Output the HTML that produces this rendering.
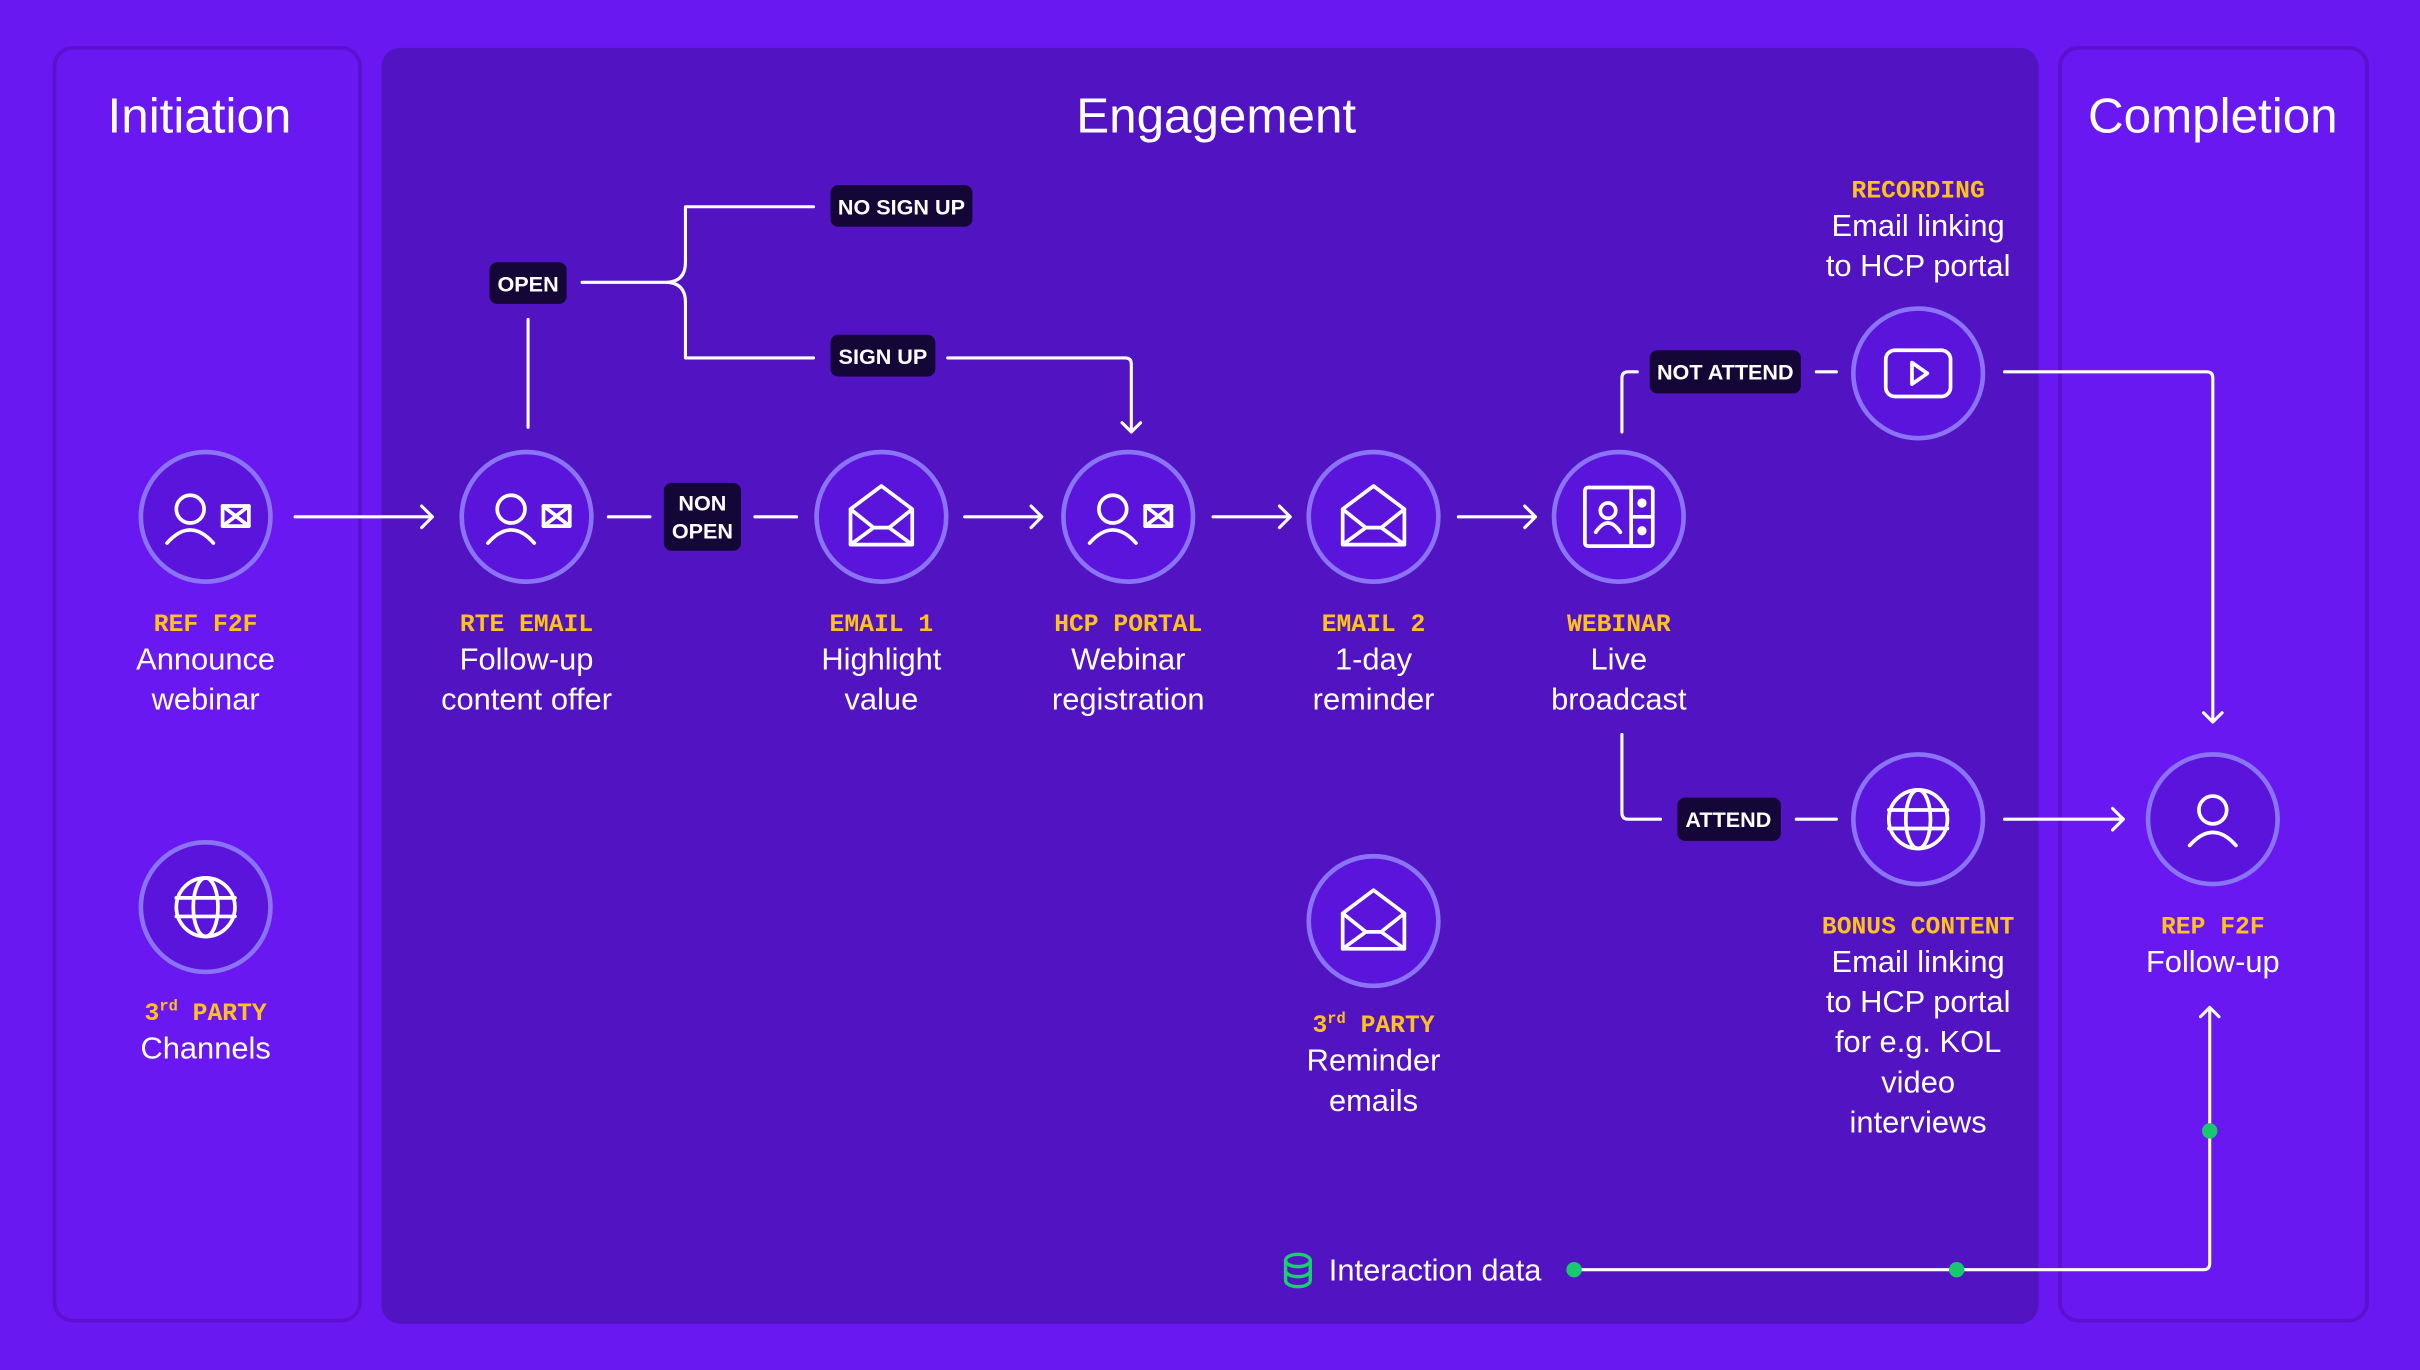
<!DOCTYPE html>
<html><head><meta charset="utf-8">
<style>
html,body{margin:0;padding:0;background:#6a18f2;}
svg{display:block;}
.h{font-family:"Liberation Sans",sans-serif;font-size:32px;fill:#fff;text-anchor:middle;}
.y{font-family:"Liberation Mono",monospace;font-size:16px;font-weight:bold;fill:#ffc21a;text-anchor:middle;}
.w{font-family:"Liberation Sans",sans-serif;font-size:20px;fill:#fff;text-anchor:middle;}
.l{font-family:"Liberation Sans",sans-serif;font-size:14px;font-weight:bold;fill:#fff;text-anchor:middle;}
.ln{stroke:#fff;stroke-width:2;fill:none;stroke-linecap:round;stroke-linejoin:round;}
.c{fill:#5a14dc;stroke:#8b73f6;stroke-width:3;}
.ic{stroke:#fff;stroke-width:2.4;fill:none;stroke-linejoin:round;stroke-linecap:round;}
.lb{fill:#150638;}
</style></head><body>
<svg width="2420" height="1370" viewBox="0 0 1568 888" xmlns="http://www.w3.org/2000/svg">
<defs>
<g id="pm"><circle class="ic" cx="-10" cy="-5" r="9"/><path class="ic" d="M-25,17 Q-10,0 5,17"/><rect class="ic" x="11" y="-7" width="17" height="13" stroke-width="2"/><path class="ic" d="M11,-7 L28,6 M28,-7 L11,6" stroke-width="1.4"/></g>
<g id="env"><path class="ic" d="M-20,-5 L0,-20 L20,-5 V18 H-20 Z M-20,-5 L-5,7 M20,-5 L5,7 M-20,18 L-5,7 H5 L20,18"/></g>
<g id="glb"><circle class="ic" cx="0" cy="0" r="19"/><ellipse class="ic" cx="0" cy="0" rx="8" ry="19"/><path class="ic" d="M-19,-6 H19 M-19,6 H19"/></g>
<g id="per"><circle class="ic" cx="0" cy="-6" r="9"/><path class="ic" d="M-15,17 Q0,0 15,17"/></g>
<g id="web"><rect class="ic" x="-22" y="-19" width="44" height="38" rx="2"/><path class="ic" d="M8,-19 V19 M8,0 H22"/><circle cx="15" cy="-9" r="3" fill="#fff"/><circle cx="15" cy="9" r="3" fill="#fff"/><circle class="ic" cx="-7" cy="-4" r="5" stroke-width="2"/><path class="ic" d="M-15,10 Q-7,-2 1,10" stroke-width="2"/></g>
<g id="ply"><rect class="ic" x="-21" y="-15" width="42" height="30" rx="6"/><path class="ic" d="M-4,-7 L6,0 L-4,7 Z"/></g>
</defs>
<rect width="1568" height="888" fill="#6a18f2"/>
<rect x="35" y="31" width="198" height="825" rx="12" fill="#6a18f2" stroke="#5a12d0" stroke-width="2.5"/>
<rect x="247" y="31" width="1074" height="827" rx="12" fill="#5214c2"/>
<rect x="1335" y="31" width="199" height="825" rx="12" fill="#6a18f2" stroke="#5a12d0" stroke-width="2.5"/>
<text class="h" x="129" y="86">Initiation</text>
<text class="h" x="788" y="86">Engagement</text>
<text class="h" x="1434" y="86">Completion</text>

<path class="ln" d="M191,335 H280 M273,328 L280,335 L273,342"/>
<path class="ln" d="M394,335 H421 M489,335 H516"/>
<path class="ln" d="M342,277 V207"/>
<path class="ln" d="M377,183 H431 Q444,183 444,170 V134 H527 M431,183 Q444,183 444,196 V232 H527"/>
<path class="ln" d="M614,232 H729 Q733,232 733,236 V280 M727,274 L733,280 L739,274"/>
<path class="ln" d="M625,335 H675 M668,328 L675,335 L668,342"/>
<path class="ln" d="M786,335 H836 M829,328 L836,335 L829,342"/>
<path class="ln" d="M945,335 H995 M988,328 L995,335 L988,342"/>
<path class="ln" d="M1051,280 V245 Q1051,241 1055,241 H1061 M1177,241 H1190"/>
<path class="ln" d="M1299,241 H1430 Q1434,241 1434,245 V468 M1428,462 L1434,468 L1440,462"/>
<path class="ln" d="M1051,476 V527 Q1051,531 1055,531 H1076 M1164,531 H1190"/>
<path class="ln" d="M1299,531 H1376 M1369,524 L1376,531 L1369,538"/>
<path class="ln" d="M1020,823 H1428 Q1432,823 1432,819 V653 M1426,659 L1432,653 L1438,659"/>
<circle cx="1020" cy="823" r="5" fill="#18c86e"/>
<circle cx="1268" cy="823" r="5" fill="#18c86e"/>
<circle cx="1432" cy="733" r="5" fill="#18c86e"/>

<rect class="lb" x="317" y="170" width="50" height="27" rx="5"/><text class="l" x="342" y="189">OPEN</text>
<rect class="lb" x="538" y="120" width="92" height="27" rx="5"/><text class="l" x="584" y="139">NO SIGN UP</text>
<rect class="lb" x="538" y="217" width="68" height="27" rx="5"/><text class="l" x="572" y="236">SIGN UP</text>
<rect class="lb" x="430" y="313" width="50" height="44" rx="5"/><text class="l" x="455" y="331">NON</text><text class="l" x="455" y="349">OPEN</text>
<rect class="lb" x="1069" y="227" width="98" height="28" rx="5"/><text class="l" x="1118" y="246">NOT ATTEND</text>
<rect class="lb" x="1087" y="517" width="67" height="28" rx="5"/><text class="l" x="1120" y="536">ATTEND</text>

<circle class="c" cx="133" cy="335" r="42"/><use href="#pm" x="133" y="335"/>
<circle class="c" cx="341" cy="335" r="42"/><use href="#pm" x="341" y="335"/>
<circle class="c" cx="571" cy="335" r="42"/><use href="#env" x="571" y="335"/>
<circle class="c" cx="731" cy="335" r="42"/><use href="#pm" x="731" y="335"/>
<circle class="c" cx="890" cy="335" r="42"/><use href="#env" x="890" y="335"/>
<circle class="c" cx="1049" cy="335" r="42"/><use href="#web" x="1049" y="335"/>
<circle class="c" cx="1243" cy="242" r="42"/><use href="#ply" x="1243" y="242"/>
<circle class="c" cx="1243" cy="531" r="42"/><use href="#glb" x="1243" y="531"/>
<circle class="c" cx="1434" cy="531" r="42"/><use href="#per" x="1434" y="531"/>
<circle class="c" cx="133" cy="588" r="42"/><use href="#glb" x="133" y="588"/>
<circle class="c" cx="890" cy="597" r="42"/><use href="#env" x="890" y="597"/>

<text class="y" x="133" y="409">REF F2F</text><text class="w" x="133" y="434">Announce</text><text class="w" x="133" y="460">webinar</text>
<text class="y" x="341" y="409">RTE EMAIL</text><text class="w" x="341" y="434">Follow-up</text><text class="w" x="341" y="460">content offer</text>
<text class="y" x="571" y="409">EMAIL 1</text><text class="w" x="571" y="434">Highlight</text><text class="w" x="571" y="460">value</text>
<text class="y" x="731" y="409">HCP PORTAL</text><text class="w" x="731" y="434">Webinar</text><text class="w" x="731" y="460">registration</text>
<text class="y" x="890" y="409">EMAIL 2</text><text class="w" x="890" y="434">1-day</text><text class="w" x="890" y="460">reminder</text>
<text class="y" x="1049" y="409">WEBINAR</text><text class="w" x="1049" y="434">Live</text><text class="w" x="1049" y="460">broadcast</text>
<text class="y" x="1243" y="128">RECORDING</text><text class="w" x="1243" y="153">Email linking</text><text class="w" x="1243" y="179">to HCP portal</text>
<text class="y" x="1243" y="605">BONUS CONTENT</text><text class="w" x="1243" y="630">Email linking</text><text class="w" x="1243" y="656">to HCP portal</text><text class="w" x="1243" y="682">for e.g. KOL</text><text class="w" x="1243" y="708">video</text><text class="w" x="1243" y="734">interviews</text>
<text class="y" x="1434" y="605">REP F2F</text><text class="w" x="1434" y="630">Follow-up</text>
<text class="y" x="133" y="661">3<tspan font-size="10" dy="-6">rd</tspan><tspan dy="6"> PARTY</tspan></text><text class="w" x="133" y="686">Channels</text>
<text class="y" x="890" y="669">3<tspan font-size="10" dy="-6">rd</tspan><tspan dy="6"> PARTY</tspan></text><text class="w" x="890" y="694">Reminder</text><text class="w" x="890" y="720">emails</text>

<g fill="none" stroke="#18d070" stroke-width="2.2">
<ellipse cx="841" cy="817" rx="8" ry="4"/>
<path d="M833,817 V830 A8,4 0 0 0 849,830 V817 M833,823.5 A8,4 0 0 0 849,823.5"/>
</g>
<text x="861" y="830" font-family="Liberation Sans,sans-serif" font-size="20" fill="#fff">Interaction data</text>
</svg>
</body></html>
